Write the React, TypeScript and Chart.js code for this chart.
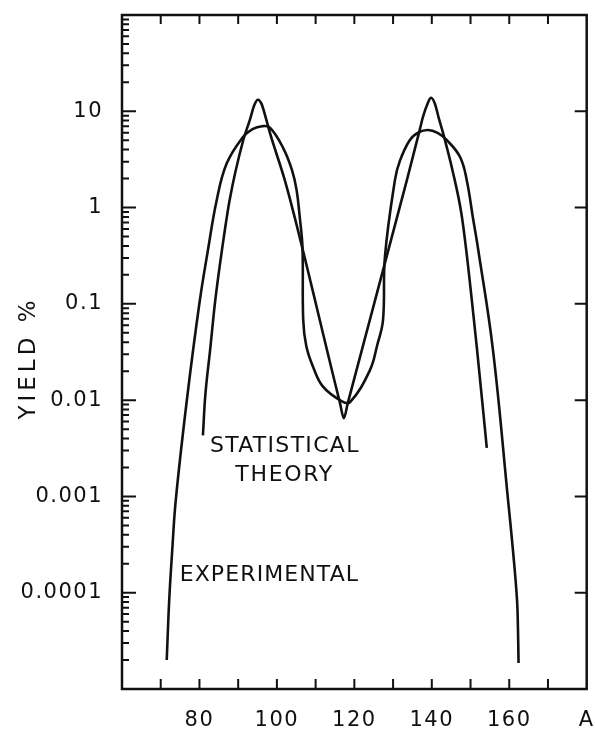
import React, { useEffect, useRef } from "react";
import { Chart, registerables } from "chart.js";

Chart.register(...registerables);

const INK = "#111111";
const FONT = '"DejaVu Sans", sans-serif';

// Statistical theory (sharp-peaked curve): mass number A, yield %
const theoryA = [80.9, 81.4, 82.75, 84.0, 85.8, 87.8, 91.3, 93.0, 94.2, 95.1, 96.0, 97.3, 98.2, 102.0, 104.6, 116.3, 117.3, 118.3, 133.6, 136.9, 137.7, 138.9, 139.8, 140.8, 141.8, 142.9, 145.5, 147.6, 148.9, 151.7, 154.2];
const theoryYield = [0.0043, 0.0098, 0.033, 0.102, 0.36, 1.2, 5.0, 8.1, 11.7, 13.2, 12.0, 8.1, 5.96, 1.95, 0.79, 0.0093, 0.0065, 0.0093, 1.95, 6.46, 8.7, 12.0, 13.8, 12.0, 8.5, 5.96, 2.29, 0.89, 0.36, 0.033, 0.0032];

// Experimental (broad curve)
const expA = [71.55, 72.2, 72.97, 73.88, 76.72, 80.0, 82.2, 84.47, 87.05, 91.19, 93.7, 96.2, 98.2, 101.6, 103.9, 105.1, 105.9, 106.6, 106.8, 107.6, 109.3, 111.9, 116.7, 118.9, 124.0, 125.9, 127.4, 127.9, 130.5, 131.8, 134.3, 136.6, 139.0, 141.5, 143.9, 147.3, 149.0, 150.6, 152.0, 155.8, 159.7, 160.96, 162.0, 162.25, 162.4];
const expYield = [2.0e-5, 8.5e-5, 2.75e-4, 9.1e-4, 9.8e-3, 0.102, 0.363, 1.2, 2.88, 5.37, 6.53, 7.0, 6.76, 4.17, 2.45, 1.51, 0.794, 0.389, 0.0676, 0.0363, 0.0224, 0.0138, 0.00977, 0.00955, 0.0204, 0.0372, 0.0676, 0.309, 1.95, 3.09, 5.01, 6.03, 6.4, 5.96, 5.01, 3.35, 1.95, 0.794, 0.363, 0.0331, 9.1e-4, 2.75e-4, 8.5e-5, 4.2e-5, 1.86e-5];

const xTickValues = [80, 100, 120, 140, 160, 180];
const xTickLabels = ["80", "100", "120", "140", "160", "A"];
const xMarkValues = [70, 80, 90, 100, 110, 120, 130, 140, 150, 160, 170];
const yTickValues = [10, 1, 0.1, 0.01, 0.001, 0.0001];
const yTickLabels = ["10", "1", "0.1", "0.01", "0.001", "0.0001"];
const yDecades = [-5, -4, -3, -2, -1, 0, 1];

const noteTexts = ["STATISTICAL", "THEORY", "EXPERIMENTAL"];
const noteA = [82.7, 102.0, 74.9];
const noteYield = [0.00334, 0.00166, 0.000153];
const noteAlign = ["left", "center", "left"];
const noteSpacing = [1.3, 1.7, 1.1];

const axisTitle = "YIELD %";

const zeroPadding = (s: any) => {
  s.paddingLeft = 0;
  s.paddingRight = 0;
  s.paddingTop = 0;
  s.paddingBottom = 0;
};

const framePlugin = {
  id: "frameTicks",
  beforeDraw(chart: any) {
    (chart.ctx as any).letterSpacing = "1.5px";
  },
  afterDraw(chart: any) {
    const { ctx, chartArea: ca, scales } = chart;
    const xs = scales.x;
    const ys = scales.y;
    ctx.save();
    (ctx as any).letterSpacing = "0px";
    ctx.strokeStyle = INK;
    ctx.lineWidth = 2.5;
    ctx.strokeRect(ca.left, ca.top, ca.right - ca.left, ca.bottom - ca.top);
    ctx.lineWidth = 2;
    ctx.beginPath();
    for (const e of yDecades) {
      for (let m = 1; m <= 9; m++) {
        const v = m * Math.pow(10, e);
        if (v > 100.0001) break;
        const y = ys.getPixelForValue(v);
        const len = m === 1 ? 14 : 7;
        ctx.moveTo(ca.left, y);
        ctx.lineTo(ca.left + len, y);
        if (m === 1 && e > -5) {
          ctx.moveTo(ca.right, y);
          ctx.lineTo(ca.right - 12, y);
        }
      }
    }
    for (const a of xMarkValues) {
      const x = xs.getPixelForValue(a);
      ctx.moveTo(x, ca.top);
      ctx.lineTo(x, ca.top + 9);
      ctx.moveTo(x, ca.bottom);
      ctx.lineTo(x, ca.bottom - 10);
    }
    ctx.stroke();

    ctx.fillStyle = INK;
    ctx.font = `22px ${FONT}`;
    ctx.textBaseline = "middle";
    noteTexts.forEach((t, i) => {
      (ctx as any).letterSpacing = `${noteSpacing[i]}px`;
      ctx.textAlign = noteAlign[i] as CanvasTextAlign;
      ctx.fillText(t, xs.getPixelForValue(noteA[i]), ys.getPixelForValue(noteYield[i]));
    });

    (ctx as any).letterSpacing = "4px";
    ctx.font = `23px ${FONT}`;
    ctx.textAlign = "center";
    ctx.translate(29, 358);
    ctx.rotate(-Math.PI / 2);
    ctx.fillText(axisTitle, 0, 0);
    ctx.restore();
  },
};

export default function App() {
  const ref = useRef<HTMLCanvasElement | null>(null);
  useEffect(() => {
    if (!ref.current) return;
    const chart = new Chart(ref.current, {
      type: "scatter",
      data: {
        datasets: [
          {
            label: "Statistical theory",
            data: theoryA.map((a, i) => ({ x: a, y: theoryYield[i] })),
            showLine: true,
            borderColor: INK,
            borderWidth: 2.6,
            pointRadius: 0,
            cubicInterpolationMode: "monotone",
            fill: false,
          },
          {
            label: "Experimental",
            data: expA.map((a, i) => ({ x: a, y: expYield[i] })),
            showLine: true,
            borderColor: INK,
            borderWidth: 2.6,
            pointRadius: 0,
            tension: 0.4,
            fill: false,
          },
        ],
      },
      options: {
        animation: false,
        responsive: false,
        devicePixelRatio: 1,
        layout: { padding: { top: 15, right: 8.3, left: 0, bottom: 0 } },
        plugins: { legend: { display: false }, tooltip: { enabled: false } },
        scales: {
          x: {
            type: "linear",
            min: 60,
            max: 180,
            grid: { display: false, drawTicks: false },
            border: { display: false },
            ticks: {
              color: INK,
              font: { family: FONT, size: 21 },
              padding: 19,
              maxRotation: 0,
              autoSkip: false,
              callback: (v: any) => {
                const i = xTickValues.indexOf(Number(v));
                return i >= 0 ? xTickLabels[i] : "";
              },
            },
            afterBuildTicks: (s: any) => {
              s.ticks = xTickValues.map((value) => ({ value }));
            },
            afterFit: (s: any) => {
              s.height = 42;
              zeroPadding(s);
            },
          },
          y: {
            type: "logarithmic",
            min: 1e-5,
            max: 100,
            grid: { display: false, drawTicks: false },
            border: { display: false },
            ticks: {
              color: INK,
              font: { family: FONT, size: 21 },
              padding: 19,
              autoSkip: false,
              callback: (v: any) => {
                const i = yTickValues.findIndex((t) => Math.abs(t - Number(v)) < t * 1e-6);
                return i >= 0 ? yTickLabels[i] : "";
              },
            },
            afterBuildTicks: (s: any) => {
              s.ticks = yTickValues.map((value) => ({ value }));
            },
            afterFit: (s: any) => {
              s.width = 122;
              zeroPadding(s);
            },
          },
        },
      },
      plugins: [framePlugin],
    } as any);
    return () => chart.destroy();
  }, []);
  return (
    <div style={{ position: "fixed", left: 0, top: 0, width: 595, height: 731, background: "#fff" }}>
      <canvas ref={ref} width={595} height={731} style={{ display: "block" }} />
    </div>
  );
}
